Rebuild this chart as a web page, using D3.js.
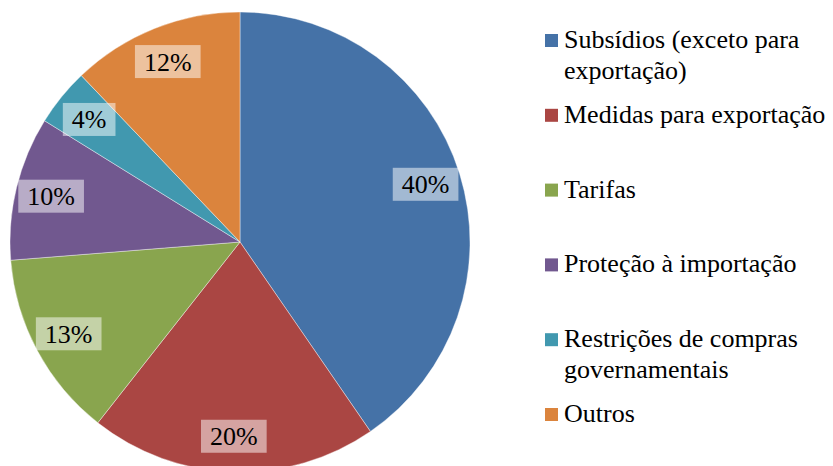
<!DOCTYPE html>
<html>
<head>
<meta charset="utf-8">
<script src="https://cdn.jsdelivr.net/npm/d3@7"></script>
</head>
<body style="margin:0">
<svg id="s" width="833" height="466"></svg>
<script>
// categories (legend lines split by \n), values in percent, slice colours
const categories = [
  "Subsídios (exceto para\nexportação)",
  "Medidas para exportação",
  "Tarifas",
  "Proteção à importação",
  "Restrições de compras\ngovernamentais",
  "Outros"
];
const values = [40, 20, 13, 10, 4, 12];
const colors = ["#4572A7", "#AA4643", "#89A54E", "#71588F", "#4198AF", "#DB843D"];

const W = 833, H = 466;
const cx = 240, cy = 242, radius = 230;
const fontSize = 26;
const serif = '"Liberation Serif"';

const svg = d3.select("#s");

const data = categories.map((c, i) => ({ name: c, value: values[i], color: colors[i] }));

const pie = d3.pie()
  .value(d => d.value)
  .sort(null);

const arc = d3.arc().innerRadius(0).outerRadius(radius);
const labelArc = d3.arc().innerRadius(radius * 0.845).outerRadius(radius * 0.845);
const arcs = pie(data);

svg.append("g")
  .attr("transform", `translate(${cx},${cy})`)
  .selectAll("path")
  .data(arcs)
  .join("path")
  .attr("d", arc)
  .attr("fill", d => d.data.color)
  .attr("stroke", "#fff")
  .attr("stroke-width", 0.4);

// data labels with translucent white box (width from Times metrics: digit .5em, % .833em)
const boxW = d => fontSize * (0.5 * String(d.data.value).length + 0.833) + 18;
const lx = d => cx + labelArc.centroid(d)[0];
const ly = d => cy + labelArc.centroid(d)[1];

svg.selectAll("rect.lblbox")
  .data(arcs)
  .join("rect")
  .attr("class", "lblbox")
  .attr("x", d => lx(d) - boxW(d) / 2)
  .attr("y", d => ly(d) - 16.5)
  .attr("width", boxW)
  .attr("height", 33)
  .attr("fill", "#fff")
  .attr("fill-opacity", 0.5);

svg.selectAll("text.lbl")
  .data(arcs)
  .join("text")
  .attr("class", "lbl")
  .attr("x", lx)
  .attr("y", d => ly(d) + 9)
  .attr("text-anchor", "middle")
  .attr("font-size", fontSize)
  .style("font-family", serif)
  .text(d => d.data.value + "%");

// legend
const legendY = d3.scalePoint()
  .domain(categories)
  .range([48, 422]);

svg.selectAll("rect.key")
  .data(data)
  .join("rect")
  .attr("class", "key")
  .attr("x", 545)
  .attr("y", d => legendY(d.name) - 14)
  .attr("width", 13)
  .attr("height", 13)
  .attr("fill", d => d.color);

// one text element per legend line
const legendLines = data.flatMap(d =>
  d.name.split("\n").map((t, i) => ({ text: t, y: legendY(d.name) + i * 31 }))
);

svg.selectAll("text.leg")
  .data(legendLines)
  .join("text")
  .attr("class", "leg")
  .attr("x", 564)
  .attr("y", d => d.y)
  .attr("font-size", fontSize)
  .style("font-family", serif)
  .text(d => d.text);
</script>
</body>
</html>
